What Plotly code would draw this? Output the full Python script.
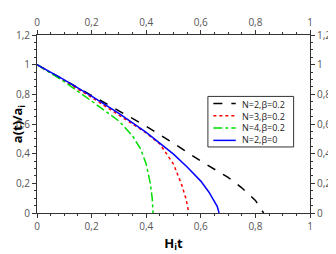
import plotly.graph_objects as go

# N=2, beta=0.2
x_black = [0, 0.1, 0.2, 0.3, 0.4, 0.5, 0.6, 0.7, 0.75, 0.8, 0.83]
y_black = [1, 0.895, 0.79, 0.688, 0.585, 0.47, 0.35, 0.24, 0.17, 0.085, 0.0]
# N=3, beta=0.2
x_red = [0, 0.1, 0.2, 0.3, 0.4, 0.45, 0.5, 0.53, 0.545, 0.552, 0.555]
y_red = [1, 0.89, 0.78, 0.66, 0.54, 0.465, 0.33, 0.19, 0.1, 0.04, 0.0]
# N=4, beta=0.2
x_green = [0, 0.1, 0.2, 0.25, 0.3, 0.35, 0.38, 0.4, 0.415, 0.422, 0.425]
y_green = [1, 0.885, 0.755, 0.69, 0.62, 0.52, 0.43, 0.33, 0.2, 0.1, 0.0]
# N=2, beta=0
x_blue = [0, 0.1, 0.2, 0.3, 0.4, 0.5, 0.55, 0.6, 0.63, 0.65, 0.66, 0.667]
y_blue = [1, 0.897, 0.788, 0.671, 0.543, 0.397, 0.31, 0.215, 0.14, 0.08, 0.045, 0.0]

names = ["N=2,β=0.2", "N=3,β=0.2", "N=4,β=0.2", "N=2,β=0"]
colors = ["black", "red", "#00dd00", "blue"]
dashes = ["dash", "dot", "dashdot", "solid"]
xs = [x_black, x_red, x_green, x_blue]
ys = [y_black, y_red, y_green, y_blue]

fig = go.Figure()
for xv, yv, nm, c, d in zip(xs, ys, names, colors, dashes):
    fig.add_trace(go.Scatter(x=xv, y=yv, mode="lines", name=nm, showlegend=False,
                             line=dict(color=c, width=1.5, dash=d)))
# invisible trace to activate the mirror axes with labels
fig.add_trace(go.Scatter(x=[0], y=[0], xaxis="x2", yaxis="y2", mode="markers",
                         marker=dict(opacity=0), showlegend=False, hoverinfo="skip"))

FONT = "Open Sans, DejaVu Sans, sans-serif"
tickfont = dict(family=FONT, size=10, color="#555")
common = dict(showgrid=False, zeroline=False, showline=True, linecolor="#333",
              linewidth=1, ticks="outside", ticklen=4, tickcolor="#333",
              tickfont=tickfont, automargin=False,
              minor=dict(ticks="outside", ticklen=2, tickcolor="#333"))

# legend box drawn in paper coordinates
leg_x0, leg_x1, leg_y0, leg_y1 = 0.626, 0.940, 0.371, 0.655
row_y = [0.615, 0.546, 0.477, 0.408]
shapes = [dict(type="rect", xref="paper", yref="paper", x0=leg_x0, x1=leg_x1,
               y0=leg_y0, y1=leg_y1, line=dict(color="#333", width=1), fillcolor="white",
               layer="above")]
for ry, c, d in zip(row_y, colors, dashes):
    shapes.append(dict(type="line", xref="paper", yref="paper", x0=0.646, x1=0.728,
                       y0=ry, y1=ry, line=dict(color=c, width=1.5, dash=d), layer="above"))
annotations = [dict(xref="paper", yref="paper", x=0.743, y=(row_y[0] + row_y[-1]) / 2,
                    text="<br>".join(names), showarrow=False, align="left",
                    xanchor="left", yanchor="middle",
                    font=dict(family=FONT, size=9, color="#222"))]

fig.update_layout(
    width=328, height=246,
    margin=dict(l=29, r=26, t=27, b=41),
    paper_bgcolor="white", plot_bgcolor="white",
    separators=",.",
    xaxis=dict(range=[0, 1], dtick=0.2, tick0=0, minor_dtick=0.05,
               title=dict(text="<b>H<sub>i</sub>t</b>", standoff=6,
                          font=dict(family=FONT, size=13, color="black")),
               **common),
    yaxis=dict(range=[0, 1.2], dtick=0.2, tick0=0, minor_dtick=0.05,
               title=dict(text="<b>a(t)/a<sub>i</sub></b>", standoff=6,
                          font=dict(family=FONT, size=13, color="black")),
               **common),
    xaxis2=dict(range=[0, 1], dtick=0.2, tick0=0, minor_dtick=0.05, overlaying="x",
                side="top", anchor="y", **common),
    yaxis2=dict(range=[0, 1.2], dtick=0.2, tick0=0, minor_dtick=0.05, overlaying="y",
                side="right", anchor="x", **common),
    shapes=shapes,
    annotations=annotations,
    showlegend=False,
)

fig.write_html("out.html")
